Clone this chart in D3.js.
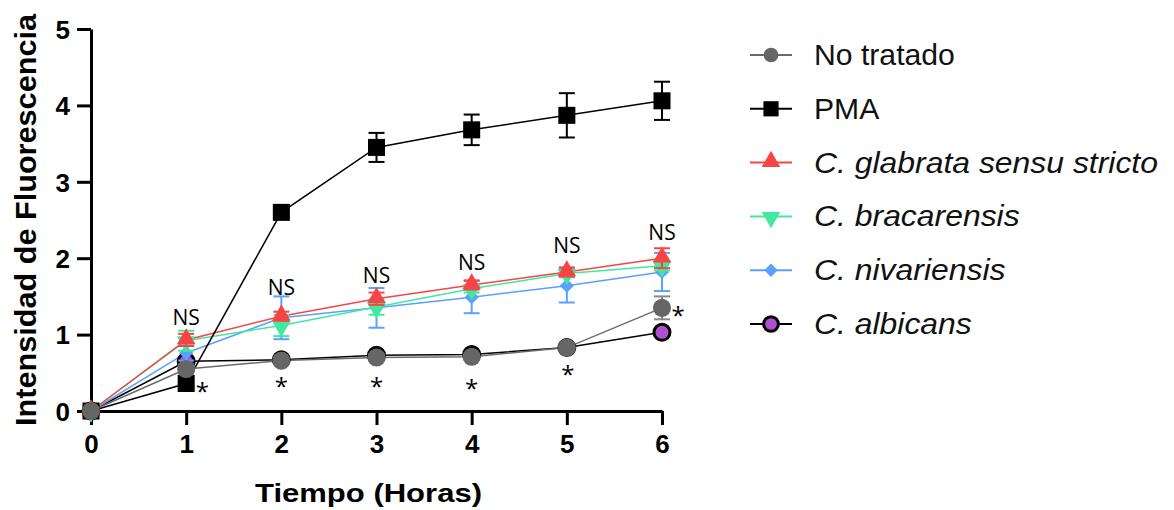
<!DOCTYPE html>
<html lang="es">
<head>
    <meta charset="UTF-8">
    <title>Intensidad de Fluorescencia</title>
    <style>
        body { margin: 0; background: #fff; }
        svg { display: block; }
        text { font-family: Arial, "Liberation Sans", sans-serif; }
    </style>
</head>
<body>
    <div id="chart"></div>
    <script src="https://d3js.org/d3.v7.min.js"></script>
    <script>
        // time points (hours)
        const horas = [0, 1, 2, 3, 4, 5, 6];

        // means
        const noTratado   = [0, 0.55, 0.66, 0.70, 0.71, 0.83, 1.35];
        const pma         = [0, 0.36, 2.60, 3.45, 3.68, 3.87, 4.06];
        const glabrata    = [0, 0.93, 1.24, 1.47, 1.65, 1.82, 2.00];
        const bracarensis = [0, 0.92, 1.12, 1.36, 1.60, 1.80, 1.90];
        const nivariensis = [0, 0.76, 1.22, 1.35, 1.49, 1.64, 1.82];
        const albicans    = [0, 0.65, 0.67, 0.73, 0.74, 0.83, 1.03];

        // error bars (SD)
        const noTratadoErr   = [0, 0.06, 0.04, 0.04, 0.04, 0.04, 0.15];
        const pmaErr         = [0, 0.05, 0.06, 0.19, 0.20, 0.29, 0.25];
        const glabrataErr    = [0, 0.08, 0.06, 0.08, 0.06, 0.06, 0.13];
        const bracarensisErr = [0, 0.13, 0.14, 0.10, 0.05, 0.05, 0.06];
        const nivariensisErr = [0, 0.10, 0.28, 0.26, 0.21, 0.22, 0.25];
        const albicansErr    = [0, 0.04, 0.03, 0.03, 0.03, 0.03, 0.04];

        const yTicks = [0, 1, 2, 3, 4, 5];
        const xTicks = [0, 1, 2, 3, 4, 5, 6];

        // significance labels
        const nsHoras = [1, 2, 3, 4, 5, 6];
        const nsY     = [1.13, 1.52, 1.68, 1.85, 2.07, 2.24];
        const starX   = [1.17, 2, 3, 4, 5.01, 6.17];
        const starY   = [0.30, 0.36, 0.37, 0.34, 0.52, 1.30];

        const series = [
            { name: 'C. albicans', italic: true, y: albicans, err: albicansErr, line: '#000', fill: '#b04fd0', stroke: '#000', shape: 'circle' },
            { name: 'C. nivariensis', italic: true, y: nivariensis, err: nivariensisErr, line: '#5aa0ff', fill: '#5aa0ff', stroke: 'none', shape: 'diamond' },
            { name: 'C. bracarensis', italic: true, y: bracarensis, err: bracarensisErr, line: '#40e8a0', fill: '#40e8a0', stroke: 'none', shape: 'down' },
            { name: 'C. glabrata sensu stricto', italic: true, y: glabrata, err: glabrataErr, line: '#f84444', fill: '#f84444', stroke: 'none', shape: 'up' },
            { name: 'PMA', italic: false, y: pma, err: pmaErr, line: '#000', fill: '#000', stroke: 'none', shape: 'square' },
            { name: 'No tratado', italic: false, y: noTratado, err: noTratadoErr, line: '#6a6a6a', fill: '#666', stroke: 'none', shape: 'circle' }
        ];
        const legendOrder = ['No tratado', 'PMA', 'C. glabrata sensu stricto', 'C. bracarensis', 'C. nivariensis', 'C. albicans'];

        const W = 1174, H = 510;
        const margin = { left: 91, top: 29, right: 512, bottom: 99 };

        const svg = d3.select('#chart').append('svg')
            .attr('width', W).attr('height', H);

        const x = d3.scaleLinear().domain([0, 6]).range([margin.left, W - margin.right]);
        const y = d3.scaleLinear().domain([0, 5]).range([H - margin.bottom, margin.top]);

        function symbolPath(shape, s) {
            const types = {
                circle: d3.symbolCircle, square: d3.symbolSquare,
                up: d3.symbolTriangle, down: d3.symbolTriangle, diamond: d3.symbolSquare
            };
            return d3.symbol().type(types[shape]).size(s)();
        }
        function symbolTransform(shape, cx, cy) {
            if (shape === 'up') return `translate(${cx},${cy - 1})`;
            if (shape === 'down') return `translate(${cx},${cy + 1}) rotate(180)`;
            if (shape === 'diamond') return `translate(${cx},${cy}) rotate(45)`;
            return `translate(${cx},${cy})`;
        }
        const sizes = { circle: 260, square: 290, up: 150, down: 150, diamond: 100 };

        // axes
        const xAxis = svg.append('g')
            .attr('transform', `translate(0,${y(0)})`)
            .call(d3.axisBottom(x).tickValues(xTicks).tickFormat(d3.format('d')).tickSize(14).tickPadding(10).tickSizeOuter(0));
        const yAxis = svg.append('g')
            .attr('transform', `translate(${x(0)},0)`)
            .call(d3.axisLeft(y).tickValues(yTicks).tickFormat(d3.format('d')).tickSize(14).tickPadding(7).tickSizeOuter(0));
        [xAxis, yAxis].forEach(a => {
            a.select('.domain').attr('stroke', '#000').attr('stroke-width', 3);
            a.selectAll('.tick line').attr('stroke', '#000').attr('stroke-width', 3);
            a.selectAll('.tick text').attr('fill', '#000').style('font-size', '26px').style('font-weight', 'bold');
        });
        yAxis.selectAll('.tick text').attr('dy', '0.36em');

        // lines
        const line = d3.line().x((d, i) => x(horas[i])).y(d => y(d));
        series.forEach(s => {
            svg.append('path')
                .datum(s.y)
                .attr('fill', 'none')
                .attr('stroke', s.line)
                .attr('stroke-width', 1.5)
                .attr('d', line);
        });

        // error bars + markers
        series.forEach(s => {
            const g = svg.append('g');
            const errColor = s.name === 'C. albicans' ? '#000' : (s.name === 'No tratado' ? '#888' : s.fill);
            horas.forEach((h, i) => {
                if (s.err[i] <= 0) return;
                const y1 = y(s.y[i] + s.err[i]), y2 = y(s.y[i] - s.err[i]);
                g.append('line').attr('x1', x(h)).attr('x2', x(h)).attr('y1', y1).attr('y2', y2)
                    .attr('stroke', errColor).attr('stroke-width', 2);
                [y1, y2].forEach(yy => g.append('line')
                    .attr('x1', x(h) - 8).attr('x2', x(h) + 8).attr('y1', yy).attr('y2', yy)
                    .attr('stroke', errColor).attr('stroke-width', 2));
            });
            g.selectAll('path.m').data(s.y).join('path')
                .attr('class', 'm')
                .attr('d', symbolPath(s.shape, s.name === 'C. albicans' ? 200 : sizes[s.shape]))
                .attr('transform', (d, i) => symbolTransform(s.shape, x(horas[i]), y(d)))
                .attr('fill', s.fill)
                .attr('stroke', s.stroke)
                .attr('stroke-width', s.stroke === 'none' ? 0 : 3);
        });

        // NS and asterisks
        svg.selectAll('text.ns').data(nsHoras).join('text')
            .attr('class', 'ns')
            .attr('x', d => x(d))
            .attr('y', (d, i) => y(nsY[i]))
            .attr('text-anchor', 'middle')
            .style('font-family', '"Open Sans", "Noto Sans", sans-serif')
            .style('font-size', '21px')
            .text('NS');
        svg.selectAll('text.star').data(starX).join('text')
            .attr('class', 'star')
            .attr('x', d => x(d))
            .attr('y', (d, i) => y(starY[i]) + 12)
            .attr('text-anchor', 'middle')
            .style('font-family', '"Open Sans", "Noto Sans", sans-serif')
            .style('font-size', '24px')
            .text('*');

        // axis titles
        svg.append('text')
            .attr('x', x(3) - 8)
            .attr('y', 502)
            .attr('text-anchor', 'middle')
            .attr('textLength', 227).attr('lengthAdjust', 'spacingAndGlyphs')
            .style('font-size', '26px').style('font-weight', 'bold')
            .text('Tiempo (Horas)');
        svg.append('text')
            .attr('transform', 'translate(36,220) rotate(-90)')
            .attr('text-anchor', 'middle')
            .attr('textLength', 412).attr('lengthAdjust', 'spacingAndGlyphs')
            .style('font-size', '29px').style('font-weight', 'bold')
            .text('Intensidad de Fluorescencia');

        // legend
        const legend = svg.append('g').attr('transform', 'translate(750,55)');
        legendOrder.forEach((name, i) => {
            const s = series.find(d => d.name === name);
            const row = legend.append('g').attr('transform', `translate(0,${i * 53.8})`);
            row.append('line').attr('x1', 0).attr('x2', 42).attr('y1', 0).attr('y2', 0)
                .attr('stroke', s.line).attr('stroke-width', 2);
            row.append('path')
                .attr('d', symbolPath(s.shape, s.shape === 'circle' ? 170 : s.shape === 'square' ? 230 : s.shape === 'diamond' ? 90 : 150))
                .attr('transform', symbolTransform(s.shape, 21, 0))
                .attr('fill', s.fill)
                .attr('stroke', s.stroke)
                .attr('stroke-width', s.stroke === 'none' ? 0 : 3);
            const t = row.append('text')
                .attr('x', 64).attr('y', 10)
                .style('font-size', '29px')
                .style('font-style', s.italic ? 'italic' : 'normal')
                .attr('fill', '#111')
                .text(name);
            const w = t.node().getComputedTextLength();
            t.attr('textLength', w * (s.italic ? 1.1 : 1.04)).attr('lengthAdjust', 'spacingAndGlyphs');
        });
    </script>
</body>
</html>
